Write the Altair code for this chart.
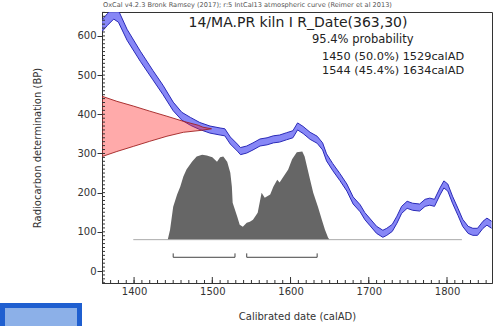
import altair as alt
import pandas as pd

# ---------------- data ----------------
# IntCal13 calibration curve (calAD, BP) and its half-width (BP)
curve_year = [1359, 1366, 1374, 1380, 1391, 1408, 1424, 1437, 1450, 1461, 1472, 1484,
              1497, 1510, 1516, 1523, 1532, 1536, 1544, 1552, 1561, 1570, 1578, 1586,
              1595, 1603, 1609, 1616, 1625, 1634, 1641, 1646, 1654, 1663, 1672, 1680,
              1689, 1695, 1701, 1710, 1718, 1723, 1730, 1736, 1742, 1749, 1756, 1765,
              1772, 1778, 1784, 1791, 1796, 1801, 1807, 1814, 1820, 1827, 1833, 1839,
              1846, 1851, 1857]
curve_bp = [626, 642, 658, 650, 603, 548, 500, 462, 420, 395, 382, 370,
            361, 356, 354, 333, 315, 306, 310, 318, 328, 331, 336, 338,
            344, 349, 369, 360, 345, 335, 318, 290, 265, 240, 213, 180,
            160, 140, 126, 105, 95, 100, 110, 131, 156, 169, 164, 162,
            174, 177, 174, 203, 221, 213, 182, 151, 123, 105, 100, 100,
            118, 126, 118]
curve_err = [15, 15, 15, 15, 14, 13, 12, 12, 11, 10, 10, 9,
             9, 9, 9, 9, 9, 9, 9, 9, 9, 9, 9, 9,
             9, 9, 9, 9, 9, 9, 9, 9, 9, 9, 9, 9,
             9, 9, 9, 9, 9, 9, 9, 9, 9, 9, 9, 9,
             9, 9, 9, 9, 9, 9, 9, 9, 9, 9, 9, 9,
             9, 9, 9]

# Radiocarbon measurement distribution drawn along the BP axis
red_bp = [292, 305, 318, 331, 344, 354, 359, 363, 367, 372, 382, 395, 408, 421, 433, 446]
red_year = [1359, 1378, 1399, 1420, 1442, 1463, 1486, 1499, 1488, 1482, 1463, 1442, 1420, 1399, 1378, 1359]

# Calibrated (posterior) distribution, top edge in BP units
post_year = [1443, 1446, 1450, 1455, 1459, 1463, 1467, 1474, 1480, 1487, 1493, 1500,
             1506, 1510, 1514, 1519, 1523, 1525, 1526, 1532, 1535, 1539, 1544, 1548,
             1552, 1558, 1563, 1567, 1574, 1578, 1583, 1586, 1590, 1597, 1602, 1608,
             1615, 1618, 1621, 1625, 1629, 1635, 1640, 1644, 1648, 1650]
post_bp = [80, 105, 164, 195, 215, 241, 259, 279, 292, 297, 295, 290,
           279, 290, 292, 279, 251, 215, 174, 138, 118, 113, 123, 126,
           131, 149, 200, 187, 195, 215, 233, 226, 238, 259, 285, 303,
           305, 292, 267, 233, 200, 164, 131, 105, 85, 80]
post_base = [80]
base_start = [1399]
base_end = [1819]

# 95.4% ranges
range_start = [1450, 1544]
range_end = [1529, 1634]
range_bp = [35]
range_tick_top = [45]

x_ticks = [1400, 1500, 1600, 1700, 1800]
y_ticks = [0, 100, 200, 300, 400, 500, 600]
x_minor = list(range(1360, 1860, 10))
y_minor = list(range(-30, 661, 10))

header_text = "OxCal v4.2.3 Bronk Ramsey (2017); r:5 IntCal13 atmospheric curve (Reimer et al 2013)"
title_text = "14/MA.PR kiln I R_Date(363,30)"
prob_text = "95.4% probability"
range_texts = ["1450 (50.0%) 1529calAD", "1544 (45.4%) 1634calAD"]

# ---------------- layout ----------------
XMIN, XMAX = 1359.0, 1857.5
YMIN, YMAX = -30.6, 661.0
W, H = 390, 271
FONT = "DejaVu Sans"
INK = "#333333"
PX_X = (XMAX - XMIN) / W     # data units per pixel
PX_Y = (YMAX - YMIN) / H

xs = alt.Scale(domain=[XMIN, XMAX], nice=False, zero=False)
ys = alt.Scale(domain=[YMIN, YMAX], nice=False, zero=False)

curve_df = pd.DataFrame({"year": curve_year, "bp": curve_bp, "err": curve_err})
curve_df["lo"] = curve_df["bp"] - curve_df["err"]
curve_df["hi"] = curve_df["bp"] + curve_df["err"]
red_df = pd.DataFrame({"bp": red_bp, "year": red_year})
post_df = pd.DataFrame({"year": post_year, "bp": post_bp})
base_df = pd.DataFrame({"x": base_start, "x2": base_end, "y": post_base})
rng_df = pd.DataFrame({"s": range_start, "e": range_end, "y": range_bp * 2,
                       "yt": range_tick_top * 2})
ends_df = pd.DataFrame({"x": range_start + range_end, "y": range_bp * 4,
                        "yt": range_tick_top * 4})

# tick tables: inward ticks along the bottom and left frame edges
xt_df = pd.DataFrame({"x": x_minor + x_ticks,
                      "len": [3] * len(x_minor) + [6] * len(x_ticks)})
xt_df["y0"] = YMIN
xt_df["y1"] = YMIN + xt_df["len"] * PX_Y
yt_df = pd.DataFrame({"y": y_minor})
yt_df["x0"] = XMIN
yt_df["x1"] = XMIN + 3 * PX_X
dummy = pd.DataFrame({"x": [XMIN], "y": [YMIN]})


def X(field, **kw):
    return alt.X(field, type="quantitative", scale=xs, axis=None, **kw)


def Y(field, **kw):
    return alt.Y(field, type="quantitative", scale=ys, axis=None, **kw)


band = alt.Chart(curve_df).mark_area(color="#7272f4", opacity=0.85, clip=True).encode(
    x=X("year"), y=Y("lo"), y2="hi")
band_lo = alt.Chart(curve_df).mark_line(color="#2a2ab8", strokeWidth=1, clip=True).encode(
    x=X("year"), y=Y("lo"))
band_hi = alt.Chart(curve_df).mark_line(color="#2a2ab8", strokeWidth=1, clip=True).encode(
    x=X("year"), y=Y("hi"))

red = alt.Chart(red_df).mark_area(orient="horizontal", color="#ff2020", opacity=0.38,
                                  clip=True).encode(
    y=Y("bp"), x=X("year"), x2=alt.datum(XMIN))
red_line = alt.Chart(red_df).mark_line(color="#a02020", strokeWidth=0.9, clip=True).encode(
    y=Y("bp"), x=X("year"), order=alt.Order("bp:Q"))

post = alt.Chart(post_df).mark_area(color="#666666", clip=True).encode(
    x=X("year"), y=Y("bp"), y2=alt.datum(post_base[0]))
base = alt.Chart(base_df).mark_rule(color="#aaaaaa", strokeWidth=1).encode(
    x=X("x"), x2="x2", y=Y("y"))

rng = alt.Chart(rng_df).mark_rule(color="#444444", strokeWidth=1).encode(
    x=X("s"), x2="e", y=Y("y"))
rng_ends = alt.Chart(ends_df).mark_rule(color="#444444", strokeWidth=1).encode(
    x=X("x"), y=Y("y"), y2="yt")

x_tick_marks = alt.Chart(xt_df).mark_rule(color=INK, strokeWidth=1).encode(
    x=X("x"), y=Y("y0"), y2="y1")
y_tick_marks = alt.Chart(yt_df).mark_rule(color=INK, strokeWidth=1).encode(
    y=Y("y"), x=X("x0"), x2="x1")

# ---------------- axes ----------------
x_main = alt.Chart(dummy).mark_point(opacity=0).encode(
    x=alt.X("x:Q", scale=xs, axis=alt.Axis(
        orient="bottom", values=x_ticks, ticks=False, labelPadding=3, grid=False,
        title="Calibrated date (calAD)", titlePadding=15, format="d")),
    y=Y("y"))
y_main = alt.Chart(dummy).mark_point(opacity=0).encode(
    y=alt.Y("y:Q", scale=ys, axis=alt.Axis(
        orient="left", values=y_ticks, tickSize=5, labelPadding=1, grid=False,
        title="Radiocarbon determination (BP)", titlePadding=34)),
    x=X("x"))

# ---------------- texts ----------------
def txt(text, x, y, size, align="left", color="#222222"):
    return alt.Chart(pd.DataFrame({"t": [text]})).mark_text(
        align=align, baseline="middle", font=FONT, fontSize=size, color=color
    ).encode(x=alt.value(x), y=alt.value(y), text="t:N")


t_header = txt(header_text, 1, -7, 6.6, color="#555555")
t_title = txt(title_text, 196, 11, 14, align="center")
t_prob = txt(prob_text, 210, 28, 11.5)
t_r1 = txt(range_texts[0], 220, 45, 11.3)
t_r2 = txt(range_texts[1], 220, 59, 11.3)

blue_box = alt.Chart(dummy).mark_rect(
    fill="#8cb0e8", stroke="#1f5fd0", strokeWidth=5).encode(
    x=alt.value(-99.5), x2=alt.value(-22.5), y=alt.value(293.5), y2=alt.value(330))

chart = alt.layer(
    band, band_lo, band_hi, red, red_line, post, base, rng, rng_ends,
    x_tick_marks, y_tick_marks, x_main, y_main,
    t_header, t_title, t_prob, t_r1, t_r2, blue_box
).resolve_axis(x="independent", y="independent").properties(
    width=W, height=H,
    padding={"left": 102, "top": 12, "right": 8, "bottom": 43},
    autosize=alt.AutoSizeParams(type="none"),
    background="white",
).configure_view(stroke=INK, strokeWidth=1).configure_axis(
    domainColor=INK, tickColor=INK, labelColor=INK, titleColor=INK,
    labelFont=FONT, titleFont=FONT, labelFontSize=10, titleFontSize=10,
    titleFontWeight="normal")

chart.save("out.html", embed_options={"renderer": "svg", "actions": False})
